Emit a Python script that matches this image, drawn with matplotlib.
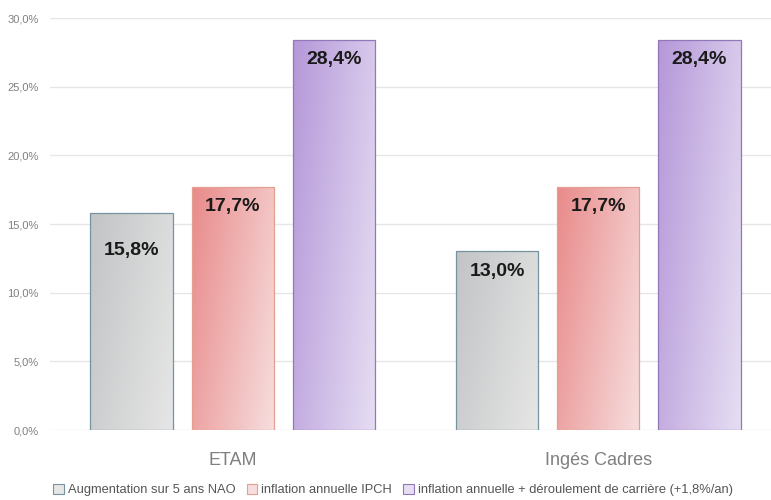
import numpy as np
import matplotlib.pyplot as plt
from matplotlib.colors import LinearSegmentedColormap
from matplotlib.patches import Patch

categories = ["ETAM", "Ingés Cadres"]
series_names = ["Augmentation sur 5 ans NAO", "inflation annuelle IPCH",
                "inflation annuelle + déroulement de carrière (+1,8%/an)"]
nao = [15.8, 13.0]
ipch = [17.7, 17.7]
carriere = [28.4, 28.4]
yticks = [0, 5, 10, 15, 20, 25, 30]

series = [nao, ipch, carriere]
# (dark corner, light corner, edge)
colours = [("#c2c4c5", "#e6e6e6", "#7893a0"),
           ("#e98a8a", "#f7dede", "#e3a08e"),
           ("#b598d9", "#e6def3", "#9278b8")]

plt.rcParams['font.family'] = ['Liberation Sans', 'DejaVu Sans']

fig = plt.figure(figsize=(7.71, 5.0), dpi=100)
ax = fig.add_axes([50 / 771, 70 / 500, 731 / 771, 412 / 500])

x = np.arange(len(categories))
width = 0.225
step = 0.277
label_drop = [[37, 20], [20, 20], [20, 20]]

# top-left dark -> bottom-right light, mostly horizontal
rows = np.linspace(0, 1, 100)
cols = np.linspace(0, 1, 100)
grad = 0.3 * rows[:, None] + 0.7 * cols[None, :]

for i, vals in enumerate(series):
    dark, light, edge = colours[i]
    cmap = LinearSegmentedColormap.from_list("g%d" % i, [dark, light])
    bars = ax.bar(x + (i - 1) * step, vals, width, facecolor="none",
                  edgecolor=edge, linewidth=0.9, zorder=3)
    for j, b in enumerate(bars):
        x0, y0 = b.get_x(), b.get_y()
        im = ax.imshow(grad, cmap=cmap, aspect="auto", origin="upper",
                       extent=[x0, x0 + b.get_width(), y0, y0 + b.get_height()],
                       vmin=0, vmax=1, zorder=2)
        im.set_clip_path(b)
        ax.annotate(f"{vals[j]:.1f}%".replace(".", ","),
                    (b.get_x() + b.get_width() / 2, vals[j]),
                    xytext=(0, -label_drop[i][j]), textcoords="offset pixels",
                    ha="center", va="center", fontsize=14, fontweight="bold",
                    color="#1a1a1a", zorder=4)

ax.set_xlim(-0.5, 1.5)
ax.set_ylim(0, 30)
ax.set_yticks(yticks)
ax.set_yticklabels([f"{t:.1f}%".replace(".", ",") for t in yticks],
                   fontsize=8, color="#808080")
ax.set_xticks(x)
ax.set_xticklabels(categories, fontsize=13, color="#7f7f7f")
ax.tick_params(axis="both", length=0)
ax.tick_params(axis="y", pad=8)
ax.tick_params(axis="x", pad=16)
ax.grid(axis="y", color="#e6e6e6", linewidth=1)
ax.set_axisbelow(True)
for s in ax.spines.values():
    s.set_visible(False)

handles = [Patch(facecolor=c[1], edgecolor=c[2], linewidth=0.8) for c in colours]
fig.legend(handles, series_names, loc="center", bbox_to_anchor=(393 / 771, 1 - 490 / 500),
           ncol=3, frameon=False, fontsize=9.3, labelcolor="#555555",
           handlelength=0.8, handleheight=0.8, handletextpad=0.3, columnspacing=0.9)

fig.savefig("out.png", dpi=100)
